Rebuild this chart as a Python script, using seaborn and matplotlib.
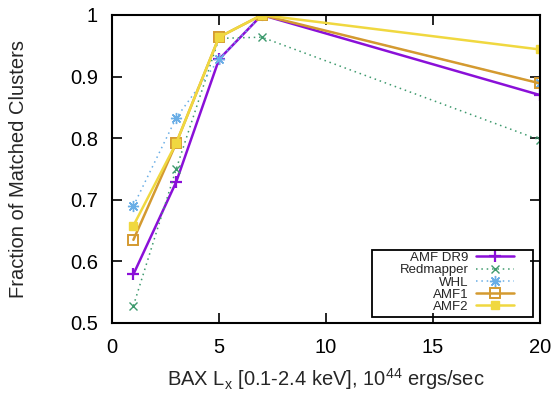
import matplotlib
matplotlib.use("Agg")
import matplotlib.pyplot as plt
from matplotlib.patches import Rectangle
import seaborn as sns
import pandas as pd

sns.set_theme(style="white")
plt.rcParams['font.family'] = ['Liberation Sans', 'DejaVu Sans']
plt.rcParams['mathtext.fontset'] = 'custom'
plt.rcParams['mathtext.rm'] = 'Liberation Sans'
plt.rcParams['mathtext.it'] = 'Liberation Sans'

lx = [1, 3, 5, 7, 20]
amf_dr9 = [0.579, 0.729, 0.928, 1.0, 0.870]
redmapper = [0.528, 0.750, 0.962, 0.964, 0.797]
whl = [0.690, 0.833, 0.928, 1.0, 0.889]
amf1 = [0.635, 0.792, 0.964, 1.0, 0.889]
amf2 = [0.658, 0.792, 0.964, 1.0, 0.944]

series = ["AMF DR9", "Redmapper", "WHL", "AMF1", "AMF2"]
values = [amf_dr9, redmapper, whl, amf1, amf2]
xticks = [0, 5, 10, 15, 20]
yticks = [0.5, 0.6, 0.7, 0.8, 0.9, 1.0]
yticklabels = ["0.5", "0.6", "0.7", "0.8", "0.9", "1"]

df = pd.DataFrame({
    "lx": lx * len(series),
    "frac": sum(values, []),
    "series": sum([[s] * len(lx) for s in series], []),
})

styles = {
    "AMF DR9": dict(color="#8A10D8", ls="-", lw=1.8, marker="+", ms=8, mew=1.6, mfc="#8A10D8"),
    "Redmapper": dict(color="#3E9A6E", ls=(0, (1, 2.5)), lw=1.1, marker="x", ms=6, mew=1.0, mfc="#3E9A6E"),
    "WHL": dict(color="#6AAEE6", ls=(0, (1, 2.5)), lw=1.1, marker=(8, 2, 0), ms=8, mew=1.0, mfc="#6AAEE6"),
    "AMF1": dict(color="#D49A30", ls="-", lw=1.8, marker="s", ms=7, mew=1.4, mfc="none"),
    "AMF2": dict(color="#F0D840", ls="-", lw=1.8, marker="s", ms=6, mew=1.0, mfc="#F0D840"),
}

fig = plt.figure(figsize=(5.55, 3.93), dpi=100)
ax = fig.add_axes([112 / 555, 1 - 323 / 393, (540 - 112) / 555, (323 - 15) / 393])

for s in series:
    st = styles[s]
    sub = df[df["series"] == s]
    sns.lineplot(data=sub, x="lx", y="frac", ax=ax, label=s, color=st["color"],
                 linestyle=st["ls"], linewidth=st["lw"], marker=st["marker"],
                 markersize=st["ms"], markeredgewidth=st["mew"],
                 markerfacecolor=st["mfc"], markeredgecolor=st["color"],
                 estimator=None, errorbar=None)

ax.set_xlim(0, 20)
ax.set_ylim(0.5, 1.0)
ax.set_xticks(xticks)
ax.set_xticklabels([str(t) for t in xticks])
ax.set_yticks(yticks)
ax.set_yticklabels(yticklabels)
ax.tick_params(direction="in", length=7, width=1.2, labelsize=14.5, colors="black",
               top=True, right=True, bottom=True, left=True)
ax.tick_params(axis="x", pad=11)
ax.tick_params(axis="y", pad=10)
for sp in ax.spines.values():
    sp.set_color("black")
    sp.set_linewidth(1.5)

ax.set_xlabel(r"BAX L$_\mathregular{x}$ [0.1-2.4 keV], 10$^\mathregular{44}$ ergs/sec", fontsize=14.5, labelpad=6)
ax.set_ylabel("Fraction of Matched Clusters", fontsize=14.5, labelpad=30)

leg = ax.legend(loc="lower right", bbox_to_anchor=(514 / 555, 1 - 313 / 393),
                bbox_transform=fig.transFigure, markerfirst=False, fontsize=9.5,
                frameon=False, labelspacing=0.0, handlelength=2.9, handletextpad=0.55,
                borderpad=0, borderaxespad=0)

fig.canvas.draw()
bb = leg.get_window_extent().transformed(fig.transFigure.inverted())
W, H = 555.0, 393.0
frame = Rectangle((bb.x0 - 28 / W, bb.y0 - 4 / H), bb.width + 47 / W, bb.height + 6 / H,
                  transform=fig.transFigure, fill=False, edgecolor="black",
                  linewidth=1.3, zorder=10)
fig.add_artist(frame)

fig.savefig("out.png", dpi=100)
